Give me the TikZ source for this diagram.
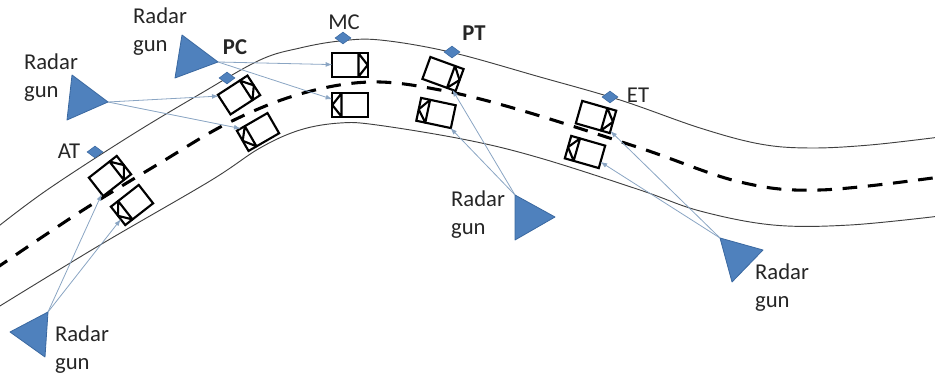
\documentclass[tikz,border=0pt]{standalone}
\usepackage{fontspec}
\setmainfont{Carlito}
\usetikzlibrary{calc,shapes.geometric,arrows.meta}

\definecolor{gunblue}{HTML}{4F81BD}
\definecolor{gunedge}{HTML}{3A68A0}
\definecolor{beamcol}{HTML}{8AA5C3}
\definecolor{roadcol}{HTML}{404040}
\definecolor{inkcol}{HTML}{262626}

\tikzset{
  road/.style={draw=roadcol, line width=0.7pt},
  lane/.style={draw=black, line width=2.3pt, dash pattern=on 11pt off 8pt},
  vehicle/.style={rectangle, draw=black, fill=white, line width=1.6pt,
    minimum width=26.5pt, minimum height=17.5pt, inner sep=0pt, outer sep=0pt},
  cabin/.style={draw=black, line width=1.6pt, line join=round},
  gun/.style={fill=gunblue, draw=gunedge, line width=0.6pt, line join=round},
  sensor/.style={diamond, fill=gunblue, draw=gunedge, line width=0.4pt,
    minimum width=12pt, minimum height=9pt, inner sep=0pt},
  beam/.style={draw=beamcol, line width=0.6pt, -{Latex[length=5pt,width=3.6pt]}},
  lbl/.style={inner sep=0pt, text=inkcol, font=\fontsize{17}{21}\selectfont},
  gunlbl/.style={lbl, align=left},
}

% vehicle heading along its local +x axis (cab on the east side)
\newcommand\vehE[3]{%
  \node[vehicle, rotate=#3] (#1) at (#2) {};
  \draw[cabin] ($(#1.north east)!0.26!(#1.north west)$) -- (#1.east)
    -- ($(#1.south east)!0.26!(#1.south west)$) -- cycle;
}
% vehicle heading along its local -x axis (cab on the west side)
\newcommand\vehW[3]{%
  \node[vehicle, rotate=#3] (#1) at (#2) {};
  \draw[cabin] ($(#1.north west)!0.26!(#1.north east)$) -- (#1.west)
    -- ($(#1.south west)!0.26!(#1.south east)$) -- cycle;
}

\begin{document}
\begin{tikzpicture}[x=0.75pt, y=-0.75pt]
\useasboundingbox (0,0) rectangle (935,377);

% road edges
\draw[road] plot[smooth, tension=0.6] coordinates {
  (-5,229) (47,190) (130,136) (200,94) (260,60) (300,48) (340,41) (380,40)
  (450,52) (540,77) (620,100) (700,128) (760,144) (810,148) (870,145) (940,137)};
\draw[road] plot[smooth, tension=0.6] coordinates {
  (-5,309) (100,245) (210,181) (260,148) (300,130) (340,123) (377,125)
  (467,140) (540,158) (640,190) (700,211) (773,225) (850,225) (940,216)};
% lane divider
\draw[lane] plot[smooth, tension=0.6] coordinates {
  (-5,269) (80,212) (160,163) (230,122) (300,94) (370,82) (440,90)
  (520,110) (640,148) (740,182) (820,190) (940,177)};

% vehicles
\vehE{at1}{110,176}{38}
\vehW{at2}{132,205}{38}
\vehE{pc1}{239,95}{33}
\vehW{pc2}{258,132}{30}
\vehE{mc1}{350,65}{0}
\vehW{mc2}{350,105}{0}
\vehE{pt1}{443,74}{-20}
\vehW{pt2}{436,113}{-12}
\vehE{et1}{596,117}{-16}
\vehW{et2}{585,152}{-16}

% roadside markers
\node[sensor] (sAT) at (95,152) {};
\node[sensor] (sPC) at (227,78) {};
\node[sensor] (sMC) at (343,38) {};
\node[sensor] (sPT) at (452,52) {};
\node[sensor] (sET) at (610,97) {};

\node[lbl] (tAT) at (69,151) {AT};
\node[lbl, font=\fontsize{17}{21}\selectfont\bfseries] (tPC) at (235,47) {PC};
\node[lbl] (tMC) at (344,22) {MC};
\node[lbl, font=\fontsize{17}{21}\selectfont\bfseries] (tPT) at (474,33) {PT};
\node[lbl] (tET) at (638,95) {ET};

% radar guns
\coordinate (g1a) at (182,35); \coordinate (g1b) at (175,78); \coordinate (g1c) at (218,62);
\coordinate (g2a) at (72,75);  \coordinate (g2b) at (67,120); \coordinate (g2c) at (108,102);
\coordinate (g3a) at (10,332); \coordinate (g3b) at (48,312); \coordinate (g3c) at (45,357);
\coordinate (g4a) at (515,195); \coordinate (g4b) at (555,217); \coordinate (g4c) at (515,240);
\coordinate (g5a) at (720,238); \coordinate (g5b) at (763,250); \coordinate (g5c) at (732,282);
\path[gun] (g1a) -- (g1b) -- (g1c) -- cycle;
\path[gun] (g2a) -- (g2b) -- (g2c) -- cycle;
\path[gun] (g3a) -- (g3b) -- (g3c) -- cycle;
\path[gun] (g4a) -- (g4b) -- (g4c) -- cycle;
\path[gun] (g5a) -- (g5b) -- (g5c) -- cycle;

\node[gunlbl] (r1) at (160,32) {Radar\\gun};
\node[gunlbl] (r2) at (51,78) {Radar\\gun};
\node[gunlbl] (r3) at (82,350) {Radar\\gun};
\node[gunlbl] (r4) at (478,215) {Radar\\gun};
\node[gunlbl] (r5) at (782,288) {Radar\\gun};

% radar beams
\draw[beam] (g1c) -- (mc1);
\draw[beam] (g1c) -- (mc2);
\draw[beam] (g2c) -- (pc1);
\draw[beam] (g2c) -- (pc2);
\draw[beam] (g3b) -- (at1);
\draw[beam] (g3b) -- (at2);
\draw[beam] (g4a) -- (pt1);
\draw[beam] (g4a) -- (pt2);
\draw[beam] (g5a) -- (et1);
\draw[beam] (g5a) -- (et2);
\end{tikzpicture}
\end{document}
